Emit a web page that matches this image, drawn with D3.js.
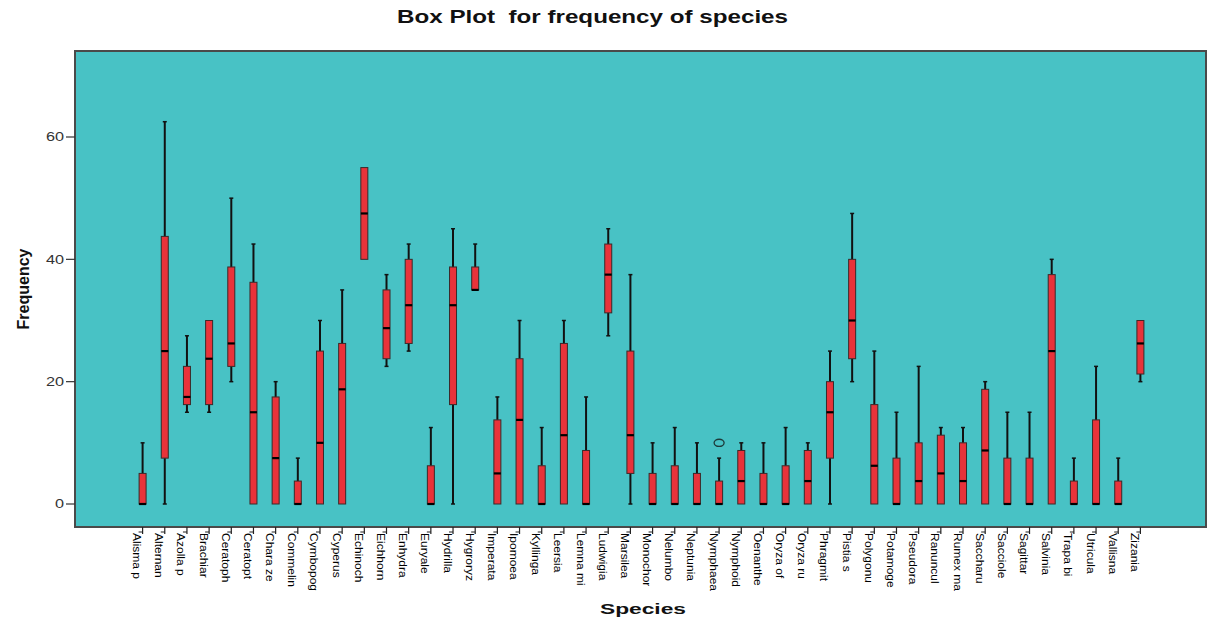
<!DOCTYPE html>
<html>
<head>
<meta charset="utf-8">
<script src="https://cdn.jsdelivr.net/npm/d3@7"></script>
<style>
  html, body { margin: 0; padding: 0; background: #ffffff; }
  svg { display: block; }
</style>
</head>
<body>
<script>
// ---- data ----
const categories = ["Alisma p","Alternan","Azolla p","Brachiar","Ceratoph","Ceratopt","Chara ze","Commelin","Cymbopog","Cyperus","Echinoch","Eichhorn","Enhydra","Euryale","Hydrilla","Hygroryz","Imperata","Ipomoea","Kyllinga","Leersia","Lemna mi","Ludwigia","Marsilea","Monochor","Nelumbo","Neptunia","Nymphaea","Nymphoid","Oenanthe","Oryza of","Oryza ru","Phragmit","Pistia s","Polygonu","Potamoge","Pseudora","Ranuncul","Rumex ma","Saccharu","Sacciole","Sagittar","Salvinia","Trapa bi","Utricula","Vallisna","Zizania"];
const whiskerLow  = [0,0,15,15,20,0,0,0,0,0,40,22.5,25,0,0,35,0,0,0,0,0,27.5,0,0,0,0,0,0,0,0,0,0,20,0,0,0,0,0,0,0,0,0,0,0,0,20];
const q1Values    = [0,7.5,16.25,16.25,22.5,0,0,0,0,0,40,23.75,26.25,0,16.25,35,0,0,0,0,0,31.25,5,0,0,0,0,0,0,0,0,7.5,23.75,0,0,0,0,0,0,0,0,0,0,0,0,21.25];
const medians     = [0,25,17.5,23.75,26.25,15,7.5,0,10,18.75,47.5,28.75,32.5,0,32.5,35,5,13.75,0,11.25,0,37.5,11.25,0,0,0,0,3.75,0,0,3.75,15,30,6.25,0,3.75,5,3.75,8.75,0,0,25,0,0,0,26.25];
const q3Values    = [5,43.75,22.5,30,38.75,36.25,17.5,3.75,25,26.25,55,35,40,6.25,38.75,38.75,13.75,23.75,6.25,26.25,8.75,42.5,25,5,6.25,5,3.75,8.75,5,6.25,8.75,20,40,16.25,7.5,10,11.25,10,18.75,7.5,7.5,37.5,3.75,13.75,3.75,30];
const whiskerHigh = [10,62.5,27.5,30,50,42.5,20,7.5,30,35,55,37.5,42.5,12.5,45,42.5,17.5,30,12.5,30,17.5,45,37.5,10,12.5,10,7.5,10,10,12.5,10,25,47.5,25,15,22.5,12.5,12.5,20,15,15,40,7.5,22.5,7.5,30];
const outliers = [{species: "Nymphaea", value: 10}];
const yTicks = [0, 20, 40, 60];
const titleText = "Box Plot  for frequency of species";
const xTitle = "Species";
const yTitle = "Frequency";

// ---- layout ----
const W = 1208, H = 623;
const plot = {left: 75, right: 1206, top: 51, bottom: 527};

const svg = d3.select("body").append("svg").attr("width", W).attr("height", H);

const x = d3.scalePoint().domain(categories).range([142.6, 1140.4]);
const y = d3.scaleLinear().domain([0, 60]).range([504, 137]);

// background
svg.append("rect")
  .attr("x", plot.left).attr("y", plot.top)
  .attr("width", plot.right - plot.left).attr("height", plot.bottom - plot.top)
  .attr("fill", "#48C2C5")
  .attr("stroke", "#4a4a4a").attr("stroke-width", 2);

const boxes = categories.map((c, i) => ({
  c, lo: whiskerLow[i], q1: q1Values[i], med: medians[i], q3: q3Values[i], hi: whiskerHigh[i]
}));

const bw = 7;
const g = svg.append("g");

boxes.forEach(d => {
  const cx = x(d.c);
  if (d.hi > d.q3) {
    g.append("line").attr("x1", cx).attr("x2", cx).attr("y1", y(d.q3)).attr("y2", y(d.hi))
      .attr("stroke", "#111").attr("stroke-width", 2);
    g.append("line").attr("x1", cx - 2).attr("x2", cx + 2).attr("y1", y(d.hi)).attr("y2", y(d.hi))
      .attr("stroke", "#111").attr("stroke-width", 1.5);
  }
  if (d.lo < d.q1) {
    g.append("line").attr("x1", cx).attr("x2", cx).attr("y1", y(d.q1)).attr("y2", y(d.lo))
      .attr("stroke", "#111").attr("stroke-width", 2);
    g.append("line").attr("x1", cx - 2).attr("x2", cx + 2).attr("y1", y(d.lo)).attr("y2", y(d.lo))
      .attr("stroke", "#111").attr("stroke-width", 1.5);
  }
  g.append("rect").attr("x", cx - bw / 2).attr("y", y(d.q3))
    .attr("width", bw).attr("height", Math.max(0.5, y(d.q1) - y(d.q3)))
    .attr("fill", "#E8333A").attr("stroke", "#3a2a2a").attr("stroke-width", 1);
  g.append("line").attr("x1", cx - bw / 2).attr("x2", cx + bw / 2)
    .attr("y1", y(d.med)).attr("y2", y(d.med))
    .attr("stroke", "#000").attr("stroke-width", 2.2);
});

outliers.forEach(o => {
  g.append("ellipse").attr("cx", x(o.species)).attr("cy", y(o.value))
    .attr("rx", 5).attr("ry", 3.6)
    .attr("fill", "none").attr("stroke", "#1d3a3a").attr("stroke-width", 1.3);
});

// y axis
const yAxis = svg.append("g");
yTicks.forEach(t => {
  yAxis.append("line").attr("x1", plot.left - 9).attr("x2", plot.left)
    .attr("y1", y(t)).attr("y2", y(t)).attr("stroke", "#333").attr("stroke-width", 1.2);
  yAxis.append("text").attr("x", plot.left - 11).attr("y", y(t) + 4.5)
    .attr("text-anchor", "end")
    .attr("font-family", "Liberation Sans, Arial, sans-serif")
    .attr("font-size", 13).attr("fill", "#333")
    .attr("transform", `translate(${plot.left - 11},0) scale(1.25,1) translate(${-(plot.left - 11)},0)`)
    .text(t);
});

// x axis ticks and labels
const xAxis = svg.append("g");
categories.forEach(c => {
  const cx = x(c);
  xAxis.append("line").attr("x1", cx).attr("x2", cx).attr("y1", plot.bottom).attr("y2", plot.bottom + 7)
    .attr("stroke", "#222").attr("stroke-width", 1.2);
  xAxis.append("line").attr("x1", cx - 4).attr("x2", cx).attr("y1", plot.bottom + 5).attr("y2", plot.bottom + 5)
    .attr("stroke", "#222").attr("stroke-width", 1);
  xAxis.append("text")
    .attr("transform", `translate(${cx - 9.5},${plot.bottom + 6}) rotate(90) scale(1,0.92)`)
    .attr("font-family", "Liberation Sans, Arial, sans-serif")
    .attr("font-size", 12).attr("fill", "#000")
    .attr("text-anchor", "start")
    .text(c);
});

// titles
svg.append("text").attr("x", 397).attr("y", 23)
  .style("white-space", "pre")
  .attr("textLength", 391).attr("lengthAdjust", "spacingAndGlyphs")
  .attr("font-family", "Liberation Sans, Arial, sans-serif")
  .attr("font-weight", "bold").attr("font-size", 17.5).attr("fill", "#111")
  .text(titleText);

svg.append("text").attr("x", 600).attr("y", 614)
  .attr("textLength", 86).attr("lengthAdjust", "spacingAndGlyphs")
  .attr("font-family", "Liberation Sans, Arial, sans-serif")
  .attr("font-weight", "bold").attr("font-size", 15.5).attr("fill", "#111")
  .text(xTitle);

svg.append("text")
  .attr("transform", `translate(29,${(plot.top + plot.bottom) / 2}) rotate(-90)`)
  .attr("text-anchor", "middle")
  .attr("font-family", "Liberation Sans, Arial, sans-serif")
  .attr("font-weight", "bold").attr("font-size", 16).attr("fill", "#111")
  .text(yTitle);
</script>
</body>
</html>
